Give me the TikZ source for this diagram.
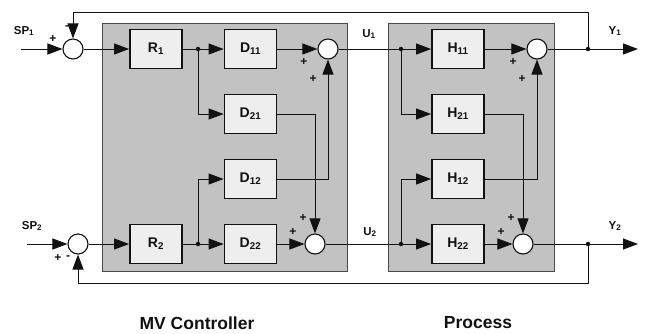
\documentclass[tikz,border=0pt]{standalone}
\usepackage{fontspec}
\setmainfont{Liberation Sans}
\usetikzlibrary{arrows.meta,calc}
\definecolor{ink}{HTML}{111111}
\definecolor{panel}{HTML}{C2C2C2}
\definecolor{panelrule}{HTML}{4A4A4A}
\definecolor{blockbg}{HTML}{EEEEEE}

\begin{document}
\begin{tikzpicture}[x=1pt,y=-1pt,text=ink,
  blk/.style={draw=ink,fill=blockbg,line width=1.8pt,minimum width=52pt,
    minimum height=39pt,inner sep=0pt,font=\bfseries\fontsize{14}{16}\selectfont},
  sumc/.style={circle,draw=ink,fill=white,line width=1.1pt,minimum size=20pt,inner sep=0pt},
  jdot/.style={circle,fill=ink,minimum size=4.5pt,inner sep=0pt},
  sig/.style={font=\bfseries\fontsize{11.5}{13}\selectfont,inner sep=0pt},
  sgn/.style={font=\bfseries\fontsize{12}{13}\selectfont,inner sep=0pt},
  paneltitle/.style={font=\bfseries\fontsize{17.5}{20}\selectfont,inner sep=0pt},
  flow/.style={-{Triangle[length=15pt,width=11pt]},line width=1pt,draw=ink},
  wire/.style={line width=1pt,draw=ink}]
\useasboundingbox (0,0) rectangle (645,333);

% panels: controller and process
\filldraw[fill=panel,draw=panelrule,line width=.9pt] (102,23) rectangle (347,271);
\filldraw[fill=panel,draw=panelrule,line width=.9pt] (388,23) rectangle (554,271);

% setpoint sums
\node[sumc] (s1) at (73,49) {};
\node[sumc] (s2) at (78,244) {};
\coordinate (sp1in) at (21,49);
\coordinate (sp2in) at (27,244);
\node[sig] at (24,31) {SP\textsubscript{1}};
\node[sig] at (32,226) {SP\textsubscript{2}};
\node[sgn] at (53,39) {+};
\node[sgn] at (67,28) {-};
\node[sgn] at (58,258) {+};
\node[sgn] at (68,258) {-};

% controller blocks
\node[blk] (r1) at (156,49) {R\textsubscript{1}};
\node[blk] (r2) at (156,244) {R\textsubscript{2}};
\node[blk] (d11) at (250.5,49) {D\textsubscript{11}};
\node[blk] (d21) at (250.5,114) {D\textsubscript{21}};
\node[blk] (d12) at (250.5,179) {D\textsubscript{12}};
\node[blk] (d22) at (250.5,244) {D\textsubscript{22}};
\node[jdot] (j1) at (198,49) {};
\node[jdot] (j2) at (198,244) {};
\node[sumc] (c1) at (328,49) {};
\node[sumc] (c2) at (315,244) {};
\node[sgn] at (304,62) {+};
\node[sgn] at (313,79) {+};
\node[sgn] at (303,218) {+};
\node[sgn] at (293,232) {+};

% process blocks
\node[blk] (h11) at (458,49) {H\textsubscript{11}};
\node[blk] (h21) at (458,114) {H\textsubscript{21}};
\node[blk] (h12) at (458,179) {H\textsubscript{12}};
\node[blk] (h22) at (458,244) {H\textsubscript{22}};
\node[jdot] (k1) at (401,49) {};
\node[jdot] (k2) at (401,244) {};
\node[sumc] (p1) at (537,49) {};
\node[sumc] (p2) at (523,244) {};
\node[sgn] at (513,62) {+};
\node[sgn] at (522,79) {+};
\node[sgn] at (511,218) {+};
\node[sgn] at (501,232) {+};
\node[sig] at (369,34) {U\textsubscript{1}};
\node[sig] at (370,232) {U\textsubscript{2}};

% outputs
\node[jdot] (yd1) at (588,49) {};
\node[jdot] (yd2) at (588,244) {};
\coordinate (y1out) at (638,49);
\coordinate (y2out) at (638,244);
\node[sig] at (615,31) {Y\textsubscript{1}};
\node[sig] at (615,226) {Y\textsubscript{2}};

% loop 1
\draw[flow] (sp1in)--(s1);
\draw[flow] (s1)--(r1);
\draw[wire] (r1)--(j1);
\draw[flow] (j1)--(d11);
\draw[flow] (j1)|-(d21);
\draw[flow] (d11)--(c1);
\draw[wire] (c1)--(k1);
\draw[flow] (k1)--(h11);
\draw[flow] (k1)|-(h21);
\draw[flow] (h11)--(p1);
\draw[wire] (p1)--(yd1);
\draw[flow] (yd1)--(y1out);
\draw[flow] (yd1)--++(0,-37)-|(s1);

% loop 2
\draw[flow] (sp2in)--(s2);
\draw[flow] (s2)--(r2);
\draw[wire] (r2)--(j2);
\draw[flow] (j2)--(d22);
\draw[flow] (j2)|-(d12);
\draw[flow] (d22)--(c2);
\draw[wire] (c2)--(k2);
\draw[flow] (k2)--(h22);
\draw[flow] (k2)|-(h12);
\draw[flow] (h22)--(p2);
\draw[wire] (p2)--(yd2);
\draw[flow] (yd2)--(y2out);
\draw[flow] (yd2)--++(0,39)-|(s2);

% cross terms
\draw[flow] (d21)-|(c2);
\draw[flow] (d12)-|(c1);
\draw[flow] (h21)-|(p2);
\draw[flow] (h12)-|(p1);

\node[paneltitle] (mvlabel) at (197,323) {MV Controller};
\node[paneltitle] (proclabel) at (478,323) {Process};
\end{tikzpicture}
\end{document}
